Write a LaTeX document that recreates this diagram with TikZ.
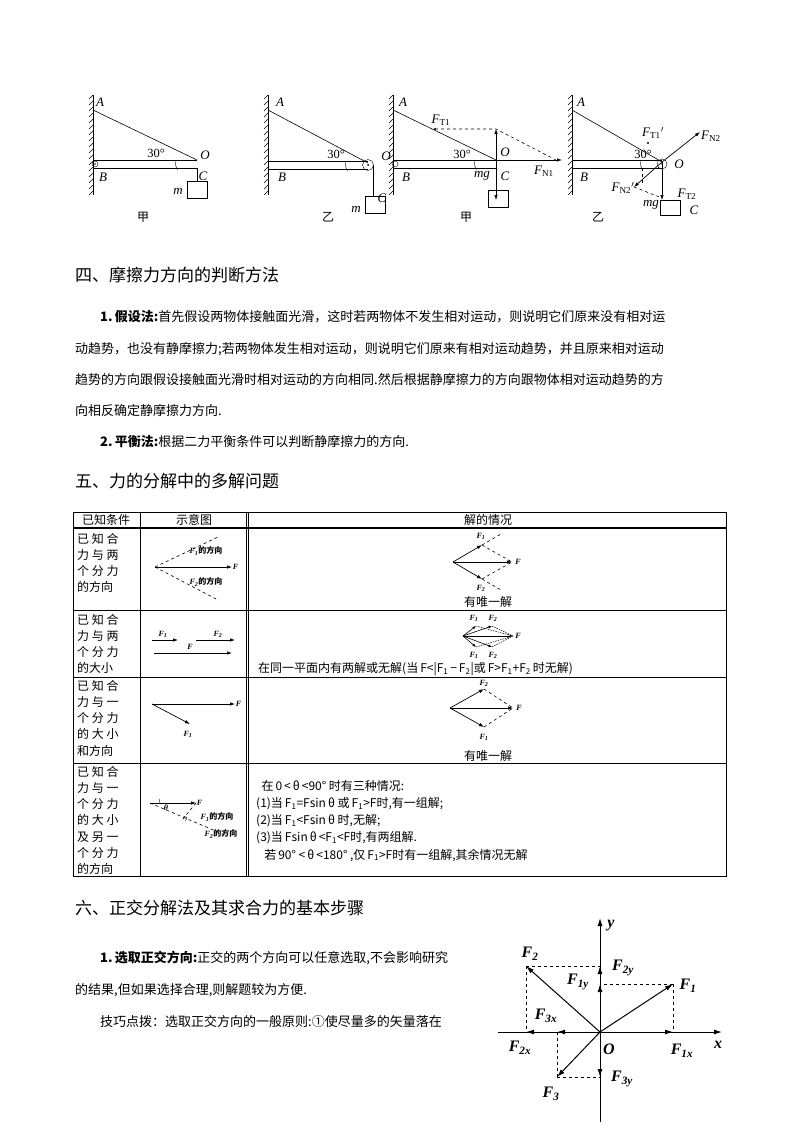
\documentclass[tikz,border=0pt]{standalone}
\usepackage{fontspec}
\setmainfont{Liberation Serif}
\newfontfamily\cjk{Noto Sans CJK SC}
\usetikzlibrary{arrows.meta}
\tikzset{
 ar/.style={-{Latex[length=8pt,width=5pt]},line width=1pt},
 sar/.style={-{Latex[length=5pt,width=3.5pt]},line width=0.7pt},
 dsh/.style={dashed,line width=0.6pt},
 lb/.style={inner sep=1pt,font=\fontsize{13}{13}\selectfont\itshape},
 sl/.style={inner sep=0.5pt,font=\fontsize{8}{8}\selectfont\bfseries\itshape},
 tx/.style={inner sep=0pt,anchor=west,font=\cjk\fontsize{13}{13}\selectfont},
 hd/.style={inner sep=0pt,anchor=west,font=\cjk\fontsize{17}{17}\selectfont},
 tt/.style={inner sep=0pt,font=\cjk\fontsize{12}{12}\selectfont},
 cl/.style={inner sep=0pt,anchor=north west,align=left,font=\cjk\fontsize{12}{16.2}\selectfont},
 gl/.style={inner sep=1pt,font=\bfseries\itshape\fontsize{16}{16}\selectfont},
}
\newcommand{\wall}[3]{\draw[line width=0.7pt] (#1,#2)--(#1,#3);
 \foreach \k in {0,...,16} \draw[line width=0.4pt] (#1,#2+6*\k)--(#1-4,#2+6*\k+4);}
\begin{document}
\begin{tikzpicture}[x=1pt,y=-1pt]
\useasboundingbox (0,0) rectangle (800,1132);
\fill[white] (0,0) rectangle (800,1132);
% ---------- fig 1
\wall{93}{95}{195}
\coordinate (A1) at (93,110); \coordinate (O1) at (197,160);
\draw[line width=0.6pt] (A1)--(O1);
\draw[line width=0.6pt] (93,160)--(197,160) (93,168)--(197,168);
\draw (95,164) circle (3); \fill (95,164) circle (0.8);
\draw (197,168)--(197,181);
\node[draw,minimum width=20pt,minimum height=17pt,inner sep=0,anchor=north] (m1) at (197,181) {};
\draw (175,160) arc (180:153:22);
\node[lb] at (100,102) {A}; \node[lb] at (103,177) {B}; \node[lb] at (205,155) {O};
\node[lb] at (203,176) {C}; \node[lb] at (178,191) {m};
\node[lb,font=\fontsize{12.5}{12.5}\selectfont] at (156,153) {30°};
\node[tt] at (143,217) {甲};
% ---------- fig 2
\wall{268}{95}{195}
\coordinate (A2) at (268,110); \coordinate (O2) at (368,163);
\draw[line width=0.6pt] (A2)--(O2);
\draw[line width=0.6pt] (268,161)--(368,161) (268,169)--(368,169);
\draw (368,165) circle (5.5); \fill (368,165) circle (1);
\draw (373.5,165)--(373.5,196);
\node[draw,minimum width=20pt,minimum height=17pt,inner sep=0,anchor=north] (m2) at (375,196) {};
\draw (345,161) arc (180:153:22);
\node[lb] at (280,102) {A}; \node[lb] at (282,177) {B}; \node[lb] at (386,156) {O};
\node[lb] at (382,198) {C}; \node[lb] at (356,209) {m};
\node[lb,font=\fontsize{12.5}{12.5}\selectfont] at (336,154) {30°};
\node[tt] at (328,217) {乙};
% ---------- fig 3
\wall{393}{95}{195}
\coordinate (A3) at (393,110); \coordinate (O3) at (496,160); \coordinate (T3) at (435,129); \coordinate (P3) at (496,129);
\draw[line width=0.6pt] (A3)--(O3);
\draw[line width=0.6pt] (393,160)--(496,160) (393,168)--(496,168);
\draw (395,164) circle (3);
\fill (T3) circle (1.2);
\draw[dsh] (T3)--(P3)--(556,160);
\draw[sar] (O3)--(P3);
\draw[sar] (O3)--(562,160);
\draw[sar] (O3)--(496,200);
\node[draw,minimum width=20pt,minimum height=17pt,inner sep=0,anchor=north] at (498,190) {};
\draw (474,160) arc (180:153:22);
\node[lb] at (403,102) {A}; \node[lb] at (406,177) {B}; \node[lb] at (505,152) {O};
\node[lb] at (505,176) {C}; \node[lb] at (482,176) {mg};
\node[lb] at (441,120) {F\textsubscript{\upshape T1}}; \node[lb] at (544,171) {F\textsubscript{\upshape N1}};
\node[lb,font=\fontsize{12.5}{12.5}\selectfont] at (462,154) {30°};
\node[tt] at (466,217) {甲};
% ---------- fig 4
\wall{572}{95}{195}
\coordinate (A4) at (572,110); \coordinate (O4) at (662,162);
\draw[line width=0.6pt] (A4)--(O4);
\draw[line width=0.6pt] (572,160)--(662,160) (572,168)--(662,168);
\draw (662,164) circle (5); \fill (662,164) circle (1);
\fill (648,143) circle (1.2);
\draw[sar] (O4)--(700,132);
\draw[sar] (O4)--(634,187);
\draw[dsh] (642,168)--(642,185);
\draw[dsh] (634,187)--(662,198);
\draw[sar] (O4)--(662,200);
\node[draw,minimum width=20pt,minimum height=15pt,inner sep=0,anchor=north] at (670,200) {};
\draw (640,160) arc (180:153:22);
\node[lb] at (581,102) {A}; \node[lb] at (584,177) {B}; \node[lb] at (679,164) {O};
\node[lb] at (694,210) {C}; \node[lb] at (651,205) {mg};
\node[lb] at (653,133) {F\textsubscript{\upshape T1}$'$};
\node[lb] at (711,136) {F\textsubscript{\upshape N2}};
\node[lb] at (623,188) {F\textsubscript{\upshape N2}$'$};
\node[lb] at (687,194) {F\textsubscript{\upshape T2}};
\node[lb,font=\fontsize{12.5}{12.5}\selectfont] at (643,154) {30°};
\node[tt] at (598,217) {乙};
% ---------- section 4
\node[hd] at (75,275) {四、摩擦力方向的判断方法};
\node[tx] at (100,317) {\textbf{1.}\,\textbf{假设法:}首先假设两物体接触面光滑，这时若两物体不发生相对运动，则说明它们原来没有相对运};
\node[tx] at (75,349) {动趋势，也没有静摩擦力;若两物体发生相对运动，则说明它们原来有相对运动趋势，并且原来相对运动};
\node[tx] at (75,380) {趋势的方向跟假设接触面光滑时相对运动的方向相同.然后根据静摩擦力的方向跟物体相对运动趋势的方};
\node[tx] at (75,411) {向相反确定静摩擦力方向.};
\node[tx] at (100,442) {\textbf{2.}\,\textbf{平衡法:}根据二力平衡条件可以判断静摩擦力的方向.};
% ---------- section 5
\node[hd] at (75,481) {五、力的分解中的多解问题};
\draw[line width=0.8pt] (73,512) rectangle (726,876);
\foreach \yy in {527,610,677,763} \draw[line width=0.6pt] (73,\yy)--(726,\yy);
\draw[line width=0.6pt] (73,528.5)--(726,528.5);
\draw[line width=0.6pt] (140,512)--(140,876) (248,512)--(248,876);
\draw[line width=0.6pt] (246,512)--(246,876);
\node[tt] at (106,520) {已知条件}; \node[tt] at (194,520) {示意图}; \node[tt] at (488,520) {解的情况};
\draw[line width=0.4pt] (458,527)--(518,527);
\foreach \yy/\t in {533/{已 知 合\\力 与 两\\个 分 力\\的方向},614/{已 知 合\\力 与 两\\个 分 力\\的大小},680/{已 知 合\\力 与 一\\个 分 力\\的 大 小\\和方向},766/{已 知 合\\力 与 一\\个 分 力\\的 大 小\\及 另 一\\个 分 力\\的方向}}
 \node[cl] at (77,\yy) {\t};
% row1 sketch
\coordinate (v1) at (155,567);
\draw[sar] (v1)--(232,567) node[sl,right] {F};
\draw[dsh] (v1)--(218,537) (v1)--(218,600);
\node[sl] at (206,551) {F\textsubscript{1}\cjk 的方向};
\node[sl] at (206,582) {F\textsubscript{2}\cjk 的方向};
% row1 solution
\coordinate (w1) at (453,562); \coordinate (a1) at (482,545); \coordinate (b1) at (482,579); \coordinate (f1) at (512,562);
\draw[sar] (w1)--(a1); \draw[sar] (w1)--(b1); \draw[sar] (w1)--(f1);
\draw[dsh] (a1)--(501,534) (b1)--(501,590) (a1)--(f1) (b1)--(f1);
\node[sl] at (481,536) {F\textsubscript{1}}; \node[sl] at (481,588) {F\textsubscript{2}}; \node[sl] at (518,562) {F};
\node[tt] at (488,602) {有唯一解};
% row2 sketch
\draw[sar] (152,640)--(178,640); \node[sl] at (163,634) {F\textsubscript{1}};
\draw[sar] (196,640)--(235,640); \node[sl] at (218,634) {F\textsubscript{2}};
\draw[sar] (154,653)--(232,653); \node[sl] at (190,647) {F};
% row2 solution
\coordinate (w2) at (463,636); \coordinate (f2) at (513,636);
\coordinate (u1) at (476,626); \coordinate (u2) at (492,626); \coordinate (d1) at (476,647); \coordinate (d2) at (492,647);
\foreach \p in {u1,u2,d1,d2,f2} \draw[-{Latex[length=3.5pt,width=2.8pt]},line width=0.6pt] (w2)--(\p);
\draw[dash pattern=on 1.5pt off 1pt,line width=0.5pt] (u1)--(f2) (u2)--(f2) (d1)--(f2) (d2)--(f2);
\node[sl] at (474,618) {F\textsubscript{1}}; \node[sl] at (493,618) {F\textsubscript{2}};
\node[sl] at (474,655) {F\textsubscript{1}}; \node[sl] at (493,655) {F\textsubscript{2}}; \node[sl] at (518,636) {F};
\node[tt,anchor=west] at (258,669) {在同一平面内有两解或无解(当\,\textit{F}<|\textit{F}\textsubscript{1}\,−\,\textit{F}\textsubscript{2}|或\,\textit{F}>\textit{F}\textsubscript{1}+\textit{F}\textsubscript{2}\,时无解)};
% row3 sketch
\draw[sar] (152,704)--(235,704) node[sl,right] {F};
\draw[sar] (152,704)--(190,724); \node[sl] at (188,734) {F\textsubscript{1}};
% row3 solution
\coordinate (w3) at (450,708); \coordinate (a3) at (484,689); \coordinate (b3) at (484,727); \coordinate (f3) at (513,708);
\draw[sar] (w3)--(a3); \draw[sar] (w3)--(b3); \draw[sar] (w3)--(f3);
\draw[dsh] (a3)--(f3) (b3)--(f3);
\node[sl] at (484,683) {F\textsubscript{2}}; \node[sl] at (484,737) {F\textsubscript{1}}; \node[sl] at (519,708) {F};
\node[tt] at (488,756) {有唯一解};
% row4 sketch
\coordinate (w4) at (150,803); \coordinate (f4) at (196,803);
\draw[sar] (w4)--(f4) node[sl,right] {F};
\draw[dsh] (w4)--(225,835);
\draw[dsh] (f4)--(182,820);
\draw[line width=0.4pt] (183.5,816)--(187,817.5)--(185.5,821);
\draw[line width=0.4pt] (160,803) arc (0:-24:10);
\node[sl] at (166,808) {θ};
\node[sl] at (217,817) {F\textsubscript{1}\cjk 的方向};
\node[sl] at (221,834) {F\textsubscript{2}\cjk 的方向};
\node[cl,font=\cjk\fontsize{12}{17.2}\selectfont] at (256,780) {\ \ 在\,0\,<\,θ\,<90°\ 时有三种情况:\\(1)当\,\textit{F}\textsubscript{1}=\textit{F}sin\,θ\ 或\,\textit{F}\textsubscript{1}>\textit{F}时,有一组解;\\(2)当\,\textit{F}\textsubscript{1}<\textit{F}sin\,θ\ 时,无解;\\(3)当\,\textit{F}sin\,θ\,<\textit{F}\textsubscript{1}<\textit{F}时,有两组解.\\\ \ \ 若\,90°\ <\,θ\,<180°\ ,仅\,\textit{F}\textsubscript{1}>\textit{F}时有一组解,其余情况无解};
% ---------- section 6
\node[hd] at (75,908) {六、正交分解法及其求合力的基本步骤};
\node[tx] at (100,958) {\textbf{1.}\,\textbf{选取正交方向:}正交的两个方向可以任意选取,不会影响研究};
\node[tx] at (75,990) {的结果,但如果选择合理,则解题较为方便.};
\node[tx] at (100,1022) {技巧点拨：选取正交方向的一般原则:①使尽量多的矢量落在};
% coordinate figure
\coordinate (O) at (600,1032);
\coordinate (yt) at (600,918); \coordinate (yb) at (600,1122);
\coordinate (xl) at (498,1032); \coordinate (xr) at (722,1032);
\draw[ar] (yb)--(yt); \node[gl] at (611,926) {\textit{y}};
\draw[ar] (xl)--(xr); \node[gl] at (718,1045) {\textit{x}};
\coordinate (F1) at (673,984); \coordinate (F2) at (526,966); \coordinate (F3) at (557,1077);
\draw[ar] (O)--(F1); \draw[ar] (O)--(F2); \draw[ar] (O)--(F3);
\draw[dsh] (F1)--(600,984) (F1)--(673,1032);
\draw[dsh] (F2)--(600,966) (F2)--(526,1032);
\draw[dsh] (F3)--(600,1077) (F3)--(557,1032);
\draw[ar] (O)--(600,984); \draw[ar] (O)--(600,966);
\draw[ar] (O)--(673,1032); \draw[ar] (O)--(526,1032); \draw[ar] (O)--(557,1032); \draw[ar] (O)--(600,1077);
\node[gl] at (530,954) {F\textsubscript{2}}; \node[gl] at (688,986) {F\textsubscript{1}};
\node[gl] at (578,982) {F\textsubscript{1y}}; \node[gl] at (623,968) {F\textsubscript{2y}};
\node[gl] at (546,1016) {F\textsubscript{3x}}; \node[gl] at (520,1048) {F\textsubscript{2x}};
\node[gl] at (609,1049) {O}; \node[gl] at (682,1051) {F\textsubscript{1x}};
\node[gl] at (551,1094) {F\textsubscript{3}}; \node[gl] at (622,1079) {F\textsubscript{3y}};
\end{tikzpicture}
\end{document}
